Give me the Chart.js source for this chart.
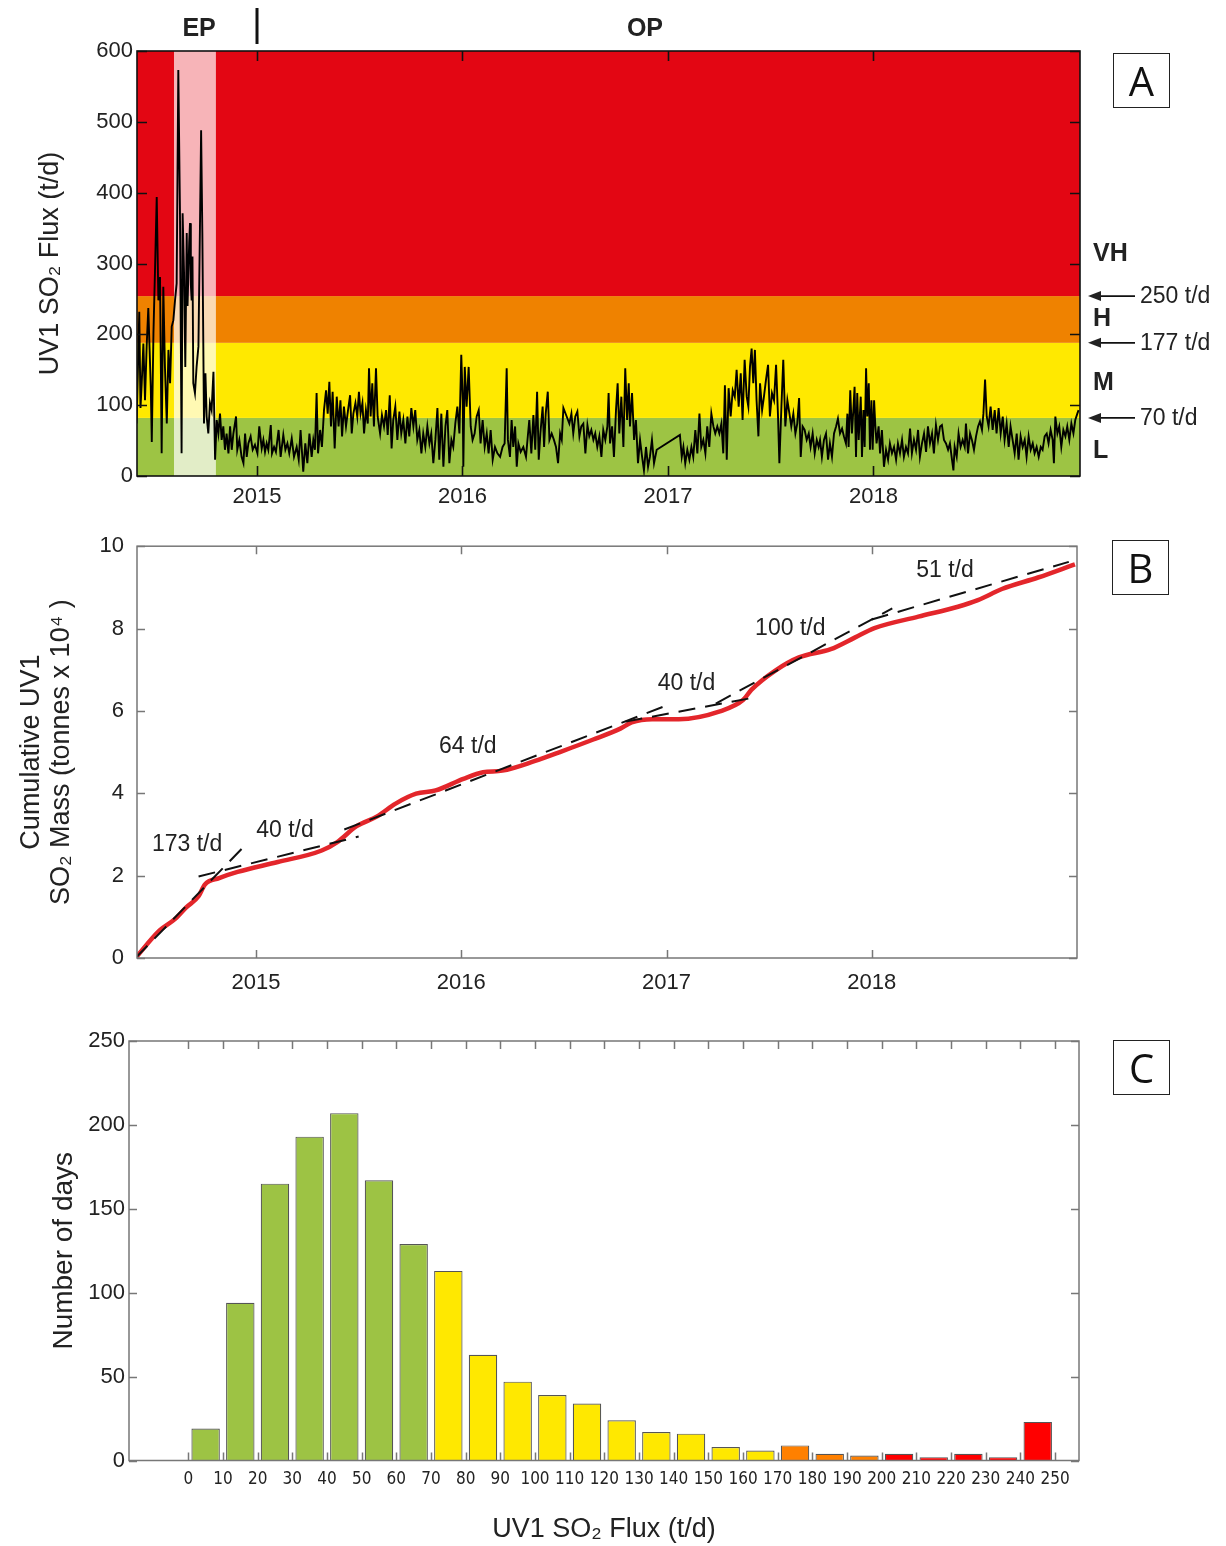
<!DOCTYPE html>
<html>
<head>
<meta charset="utf-8">
<script src="https://cdn.jsdelivr.net/npm/chart.js@4.4.1/dist/chart.umd.min.js"></script>
<style>
  body { margin: 0; background: #fff; }
  #page { position: relative; width: 1226px; height: 1546px; }
  canvas { position: absolute; left: 0; }
  .tag { position: absolute; width: 55px; height: 53px; border: 1.5px solid #222;
         font: 40px "Open Sans", sans-serif; text-align: center; line-height: 53px; color: #111; }
</style>
</head>
<body>
<div id="page">
  <canvas id="chartA" width="1226" height="520" style="top:0"></canvas>
  <canvas id="chartB" width="1226" height="490" style="top:520px"></canvas>
  <canvas id="chartC" width="1226" height="536" style="top:1010px"></canvas>
  <div class="tag" style="left:1113px;top:53px">A</div>
  <div class="tag" style="left:1112px;top:540px">B</div>
  <div class="tag" style="left:1113px;top:1040px">C</div>
</div>
<script>
// ---- panel A : UV1 SO2 flux (t/d), [decimal year, value]
var fluxSeries = [
  [2014.414,74],[2014.420,145],[2014.427,232],[2014.433,96],[2014.439,131],[2014.447,187],[2014.455,107],[2014.463,183],[2014.471,237],
  [2014.483,126],[2014.488,48],[2014.496,201],[2014.504,295],[2014.512,394],[2014.520,248],[2014.528,281],
  [2014.536,32],[2014.544,267],[2014.552,154],[2014.561,74],[2014.569,178],[2014.577,131],[2014.585,211],
  [2014.593,220],[2014.601,248],[2014.609,272],[2014.617,573],[2014.625,376],[2014.633,32],[2014.638,371],
  [2014.645,286],[2014.651,154],[2014.658,343],[2014.662,240],[2014.666,286],[2014.670,330],[2014.674,357],[2014.678,270],[2014.682,248],[2014.686,310],[2014.690,131],
  [2014.698,117],[2014.706,154],[2014.715,183],[2014.723,366],[2014.728,488],[2014.734,343],[2014.742,74],
  [2014.749,145],[2014.755,84],[2014.763,60],[2014.771,103],[2014.779,93],[2014.788,147],[2014.796,23],
  [2014.804,79],[2014.812,60],[2014.820,88],[2014.828,51],[2014.836,70],[2014.844,37],[2014.852,60],
  [2014.861,32],[2014.869,70],[2014.877,37],[2014.885,60],[2014.898,84],[2014.904,37],[2014.914,51],
  [2014.925,27],[2014.934,18],[2014.942,60],[2014.950,27],[2014.958,46],[2014.969,56],[2014.979,37],
  [2014.990,44],[2015.002,32],[2015.011,70],[2015.023,39],[2015.031,51],[2015.039,34],[2015.047,46],
  [2015.055,37],[2015.067,72],[2015.073,32],[2015.083,41],[2015.092,34],[2015.105,65],[2015.115,27],
  [2015.128,58],[2015.138,37],[2015.148,46],[2015.157,32],[2015.169,53],[2015.180,27],[2015.193,41],
  [2015.203,23],[2015.212,65],[2015.225,6],[2015.235,46],[2015.245,18],[2015.255,60],[2015.266,27],
  [2015.274,51],[2015.282,37],[2015.290,117],[2015.297,32],[2015.307,65],[2015.316,41],[2015.326,93],
  [2015.336,121],[2015.344,88],[2015.352,133],[2015.360,70],[2015.368,119],[2015.378,39],[2015.388,112],
  [2015.397,70],[2015.406,107],[2015.414,56],[2015.423,98],[2015.433,70],[2015.443,93],[2015.453,114],
  [2015.461,60],[2015.469,88],[2015.479,103],[2015.488,84],[2015.496,119],[2015.504,88],[2015.513,103],
  [2015.521,60],[2015.530,93],[2015.539,74],[2015.545,152],[2015.553,84],[2015.561,131],[2015.569,70],
  [2015.579,152],[2015.587,84],[2015.599,60],[2015.608,86],[2015.618,70],[2015.628,93],[2015.636,58],
  [2015.646,114],[2015.655,39],[2015.663,79],[2015.673,98],[2015.683,51],[2015.693,91],[2015.702,60],
  [2015.712,79],[2015.722,46],[2015.732,84],[2015.741,56],[2015.751,96],[2015.761,70],[2015.770,93],
  [2015.780,51],[2015.790,65],[2015.800,32],[2015.809,60],[2015.819,41],[2015.829,70],[2015.839,46],
  [2015.848,60],[2015.858,18],[2015.868,51],[2015.878,96],[2015.887,23],[2015.897,88],[2015.907,13],
  [2015.917,70],[2015.926,93],[2015.936,18],[2015.946,51],[2015.955,41],[2015.965,74],[2015.975,98],
  [2015.985,60],[2015.994,171],[2016.001,107],[2016.004,13],[2016.011,154],[2016.020,98],[2016.030,154],
  [2016.040,70],[2016.049,51],[2016.059,60],[2016.069,84],[2016.079,93],[2016.088,46],[2016.098,79],
  [2016.108,41],[2016.118,60],[2016.127,32],[2016.137,65],[2016.147,23],[2016.158,41],[2016.170,32],
  [2016.183,27],[2016.195,41],[2016.205,46],[2016.215,152],[2016.221,51],[2016.231,27],[2016.239,79],
  [2016.247,41],[2016.256,70],[2016.264,13],[2016.272,46],[2016.283,34],[2016.296,41],[2016.309,27],
  [2016.319,60],[2016.325,79],[2016.335,32],[2016.345,86],[2016.354,37],[2016.363,119],[2016.371,23],
  [2016.379,60],[2016.390,98],[2016.397,41],[2016.405,88],[2016.415,119],[2016.423,51],[2016.434,60],
  [2016.445,51],[2016.455,41],[2016.465,18],[2016.475,60],[2016.483,51],[2016.491,96],[2016.507,84],
  [2016.520,74],[2016.530,88],[2016.539,60],[2016.549,84],[2016.559,91],[2016.569,56],[2016.578,70],
  [2016.588,74],[2016.598,32],[2016.608,72],[2016.617,56],[2016.627,65],[2016.637,51],[2016.646,60],
  [2016.656,41],[2016.666,56],[2016.676,27],[2016.685,65],[2016.695,51],[2016.705,70],[2016.711,117],
  [2016.718,46],[2016.728,70],[2016.737,27],[2016.747,93],[2016.755,131],[2016.763,60],[2016.773,112],
  [2016.783,41],[2016.792,152],[2016.801,79],[2016.809,131],[2016.815,70],[2016.825,117],[2016.835,51],
  [2016.844,79],[2016.854,18],[2016.864,51],[2016.874,27],[2016.883,8],[2016.893,41],[2016.903,13],
  [2016.912,27],[2016.922,51],[2016.932,18],[2016.945,37],[2017.058,58],[2017.067,27],[2017.075,41],
  [2017.084,18],[2017.094,37],[2017.104,23],[2017.114,41],[2017.123,27],[2017.133,65],[2017.143,32],
  [2017.153,88],[2017.162,41],[2017.172,51],[2017.182,32],[2017.191,70],[2017.201,41],[2017.211,88],
  [2017.221,70],[2017.230,60],[2017.240,70],[2017.250,60],[2017.260,74],[2017.269,32],[2017.277,128],
  [2017.286,23],[2017.295,124],[2017.305,84],[2017.315,121],[2017.325,112],[2017.334,150],[2017.344,98],
  [2017.354,145],[2017.363,79],[2017.373,164],[2017.383,112],[2017.391,98],[2017.399,154],[2017.407,180],
  [2017.415,131],[2017.423,178],[2017.431,107],[2017.440,56],[2017.448,131],[2017.458,93],[2017.467,112],
  [2017.477,136],[2017.487,157],[2017.496,84],[2017.506,117],[2017.516,107],[2017.526,157],[2017.535,88],
  [2017.542,18],[2017.552,98],[2017.561,164],[2017.571,70],[2017.581,107],[2017.591,88],[2017.600,70],
  [2017.610,88],[2017.620,60],[2017.629,74],[2017.638,110],[2017.646,27],[2017.655,70],[2017.665,65],
  [2017.675,51],[2017.685,60],[2017.694,41],[2017.704,60],[2017.714,32],[2017.724,51],[2017.733,41],
  [2017.740,51],[2017.749,27],[2017.759,51],[2017.769,60],[2017.779,23],[2017.788,46],[2017.798,27],
  [2017.808,60],[2017.818,70],[2017.827,81],[2017.837,60],[2017.847,67],[2017.856,56],[2017.866,46],
  [2017.873,88],[2017.879,41],[2017.887,121],[2017.895,60],[2017.902,93],[2017.908,126],[2017.915,27],
  [2017.921,117],[2017.928,51],[2017.938,112],[2017.944,27],[2017.951,93],[2017.957,41],[2017.964,152],
  [2017.970,84],[2017.977,131],[2017.983,37],[2017.990,107],[2017.996,37],[2018.003,107],[2018.009,70],
  [2018.015,46],[2018.025,70],[2018.032,32],[2018.041,65],[2018.051,13],[2018.061,37],[2018.071,23],
  [2018.080,46],[2018.090,32],[2018.100,41],[2018.110,23],[2018.119,46],[2018.129,32],[2018.139,51],
  [2018.148,27],[2018.158,41],[2018.168,32],[2018.178,67],[2018.187,32],[2018.197,51],[2018.207,37],
  [2018.217,65],[2018.226,27],[2018.236,46],[2018.246,60],[2018.256,34],[2018.265,70],[2018.275,46],
  [2018.285,60],[2018.294,32],[2018.304,72],[2018.314,51],[2018.324,70],[2018.333,72],[2018.343,51],
  [2018.353,46],[2018.363,37],[2018.372,46],[2018.382,23],[2018.389,8],[2018.395,41],[2018.405,27],
  [2018.414,60],[2018.424,41],[2018.434,51],[2018.444,41],[2018.450,74],[2018.460,32],[2018.470,60],
  [2018.479,51],[2018.489,37],[2018.499,56],[2018.509,70],[2018.518,77],[2018.528,65],[2018.535,88],
  [2018.543,136],[2018.551,84],[2018.560,70],[2018.570,98],[2018.580,65],[2018.590,93],[2018.599,60],
  [2018.609,96],[2018.619,60],[2018.629,84],[2018.638,51],[2018.648,74],[2018.658,41],[2018.667,70],
  [2018.677,51],[2018.687,32],[2018.697,60],[2018.706,23],[2018.716,56],[2018.726,41],[2018.736,51],
  [2018.745,27],[2018.755,56],[2018.765,37],[2018.775,46],[2018.784,32],[2018.794,41],[2018.804,27],
  [2018.814,41],[2018.823,37],[2018.833,56],[2018.843,60],[2018.852,46],[2018.862,65],[2018.872,51],
  [2018.878,18],[2018.885,84],[2018.895,60],[2018.904,70],[2018.914,41],[2018.924,65],[2018.934,56],
  [2018.943,70],[2018.953,51],[2018.963,74],[2018.973,60],[2018.982,79],[2018.992,88],[2018.998,93]
];
var bandLimits = [82, 188, 254];           // band edges as drawn (L|M, M|H, H|VH)
var bandNames = ["L", "M", "H", "VH"];
var thresholdLabels = ["70 t/d", "177 t/d", "250 t/d"];
var epPeriod = [2014.596, 2014.800];
var phaseBoundary = 2015.0;
var yearTicks = [2015, 2016, 2017, 2018];

// ---- panel B : cumulative mass (tonnes x 10^4)
var cumulative = [
  [2014.413,0],[2014.53,0.67],[2014.606,0.95],[2014.66,1.23],[2014.72,1.50],[2014.75,1.78],[2014.82,1.94],
  [2014.91,2.09],[2015.106,2.33],[2015.32,2.61],[2015.394,2.81],[2015.49,3.20],[2015.59,3.44],[2015.68,3.75],
  [2015.78,3.99],[2015.875,4.07],[2016.01,4.35],[2016.106,4.51],[2016.20,4.55],[2016.356,4.78],[2016.49,5.02],
  [2016.64,5.30],[2016.775,5.57],[2016.83,5.72],[2016.93,5.80],[2017.06,5.80],[2017.26,5.99],[2017.374,6.27],
  [2017.413,6.51],[2017.53,6.98],[2017.645,7.30],[2017.80,7.50],[2017.917,7.78],[2018.013,8.01],[2018.227,8.29],
  [2018.42,8.53],[2018.517,8.69],[2018.634,8.96],[2018.81,9.24],[2018.99,9.56]
];
var fitSegments = [
  [[2014.413,0.0],[2014.93,2.65]],
  [[2014.72,1.98],[2015.50,2.95]],
  [[2015.43,3.12],[2017.02,6.17]],
  [[2016.80,5.74],[2017.40,6.30]],
  [[2017.24,6.18],[2018.10,8.49]],
  [[2018.00,8.22],[2018.96,9.62]]
];
var fitRates = ["173 t/d", "40 t/d", "64 t/d", "40 t/d", "100 t/d", "51 t/d"];

// ---- panel C : histogram of daily flux
var fluxBins = [0,10,20,30,40,50,60,70,80,90,100,110,120,130,140,150,160,170,180,190,200,210,220,230,240,250];
var dayCounts = [19,94,165,193,207,167,129,113,63,47,39,34,24,17,16,8,6,9,4,3,4,2,4,2,23];

Chart.defaults.font.family = '"Liberation Sans", Arial, sans-serif';
Chart.defaults.color = "#222";

// MATLAB style box with inward ticks on all four sides
var boxTicks = {
  id: "boxTicks",
  afterDraw: function (chart, args, opts) {
    var a = chart.chartArea, ctx = chart.ctx, sx = chart.scales.x, sy = chart.scales.y;
    ctx.save();
    ctx.strokeStyle = opts.color;
    ctx.lineWidth = opts.width;
    ctx.beginPath();
    sx.ticks.forEach(function (t) {
      var px = Math.round(sx.getPixelForValue(t.value)) + 0.5;
      ctx.moveTo(px, a.bottom); ctx.lineTo(px, a.bottom - opts.len);
      ctx.moveTo(px, a.top); ctx.lineTo(px, a.top + opts.len);
    });
    sy.ticks.forEach(function (t) {
      var py = Math.round(sy.getPixelForValue(t.value)) + 0.5;
      ctx.moveTo(a.left, py); ctx.lineTo(a.left + opts.len, py);
      ctx.moveTo(a.right, py); ctx.lineTo(a.right - opts.len, py);
    });
    ctx.stroke();
    ctx.strokeRect(a.left, a.top, a.right - a.left, a.bottom - a.top);
    ctx.restore();
  }
};

var bandColors = ["#9dc444", "#ffe900", "#ef8200", "#e30613"];

var hazardBands = {
  id: "hazardBands",
  beforeDatasetsDraw: function (chart) {
    var a = chart.chartArea, ctx = chart.ctx, sx = chart.scales.x, sy = chart.scales.y;
    var edges = [sy.min].concat(bandLimits, [sy.max]);
    ctx.save();
    for (var i = 0; i < bandColors.length; i++) {
      var y0 = sy.getPixelForValue(edges[i]), y1 = sy.getPixelForValue(edges[i + 1]);
      ctx.fillStyle = bandColors[i];
      ctx.fillRect(a.left, y1, a.right - a.left, y0 - y1);
    }
    var x0 = sx.getPixelForValue(epPeriod[0]), x1 = sx.getPixelForValue(epPeriod[1]);
    ctx.fillStyle = "rgba(255,255,255,0.7)";
    ctx.fillRect(x0, a.top, x1 - x0, a.bottom - a.top);
    ctx.restore();
  },
  afterDraw: function (chart) {
    var a = chart.chartArea, ctx = chart.ctx, sx = chart.scales.x, sy = chart.scales.y;
    ctx.save();
    ctx.fillStyle = "#222";
    ctx.strokeStyle = "#111";
    ctx.font = 'bold 25px "Liberation Sans", Arial, sans-serif';
    ctx.textAlign = "center";
    ctx.textBaseline = "middle";
    ctx.fillText("EP", sx.getPixelForValue(2014.718), 29);
    ctx.fillText("OP", sx.getPixelForValue(2016.888), 29);
    var xd = sx.getPixelForValue(phaseBoundary);
    ctx.lineWidth = 3;
    ctx.beginPath(); ctx.moveTo(xd, 8); ctx.lineTo(xd, 44); ctx.stroke();

    // hazard level letters
    var nameAt = [35, 131, 222, 313];
    ctx.textAlign = "left";
    bandNames.forEach(function (n, i) {
      ctx.fillText(n, a.right + 13, sy.getPixelForValue(nameAt[i]));
    });

    // threshold arrows
    ctx.font = '23px "Liberation Sans", Arial, sans-serif';
    ctx.lineWidth = 1.6;
    bandLimits.forEach(function (v, i) {
      var y = sy.getPixelForValue(v);
      var tip = a.right + 8;
      ctx.beginPath(); ctx.moveTo(tip + 8, y); ctx.lineTo(a.right + 55, y); ctx.stroke();
      ctx.beginPath(); ctx.moveTo(tip, y); ctx.lineTo(tip + 13, y - 5); ctx.lineTo(tip + 13, y + 5); ctx.closePath(); ctx.fill();
      ctx.fillText(thresholdLabels[i], a.right + 60, y + 1);
    });
    ctx.restore();
  }
};

var rateLabels = {
  id: "rateLabels",
  afterDatasetsDraw: function (chart) {
    var ctx = chart.ctx, sx = chart.scales.x, sy = chart.scales.y;
    var at = [[2014.664,2.76],[2015.141,3.10],[2016.032,5.14],[2017.097,6.67],[2017.603,8.0],[2018.357,9.40]];
    ctx.save();
    ctx.fillStyle = "#222";
    ctx.font = '23px "Liberation Sans", Arial, sans-serif';
    ctx.textAlign = "center";
    ctx.textBaseline = "middle";
    fitRates.forEach(function (t, i) {
      ctx.fillText(t, sx.getPixelForValue(at[i][0]), sy.getPixelForValue(at[i][1]));
    });
    ctx.restore();
  }
};

function yearAxis(min, max, height, pad) {
  return {
    type: "linear", min: min, max: max,
    grid: { display: false, drawTicks: false }, border: { display: false },
    afterBuildTicks: function (s) { s.ticks = yearTicks.map(function (v) { return { value: v }; }); },
    afterFit: function (s) { s.height = height; },
    ticks: { font: { size: 22 }, padding: pad, maxRotation: 0, autoSkip: false,
             callback: function (v) { return String(v); } }
  };
}

function toXY(pairs) {
  return pairs.map(function (p) { return { x: p[0], y: p[1] }; });
}

// ---------- A
new Chart(document.getElementById("chartA"), {
  type: "line",
  data: {
    datasets: [{
      data: toXY(fluxSeries),
      borderColor: "#000", borderWidth: 1.9, pointRadius: 0, tension: 0
    }]
  },
  options: {
    animation: false, responsive: false, devicePixelRatio: 1,
    layout: { padding: { left: 0, top: 51, right: 146, bottom: 0 } },
    plugins: { legend: { display: false }, tooltip: { enabled: false },
               boxTicks: { color: "#111", width: 1.6, len: 10 } },
    scales: {
      x: yearAxis(2014.416, 2019.005, 44, 8),
      y: {
        min: 0, max: 600,
        grid: { display: false, drawTicks: false }, border: { display: false },
        afterFit: function (s) { s.width = 137; },
        ticks: { stepSize: 100, font: { size: 22 }, padding: 4 },
        title: { display: true, text: "UV1 SO\u2082 Flux (t/d)", font: { size: 27 }, padding: { top: 34, bottom: 0 } }
      }
    }
  },
  plugins: [hazardBands, boxTicks]
});

// ---------- B
var fitSets = fitSegments.map(function (seg) {
  return { data: toXY(seg), borderColor: "#111", borderWidth: 2, borderDash: [17, 10],
           pointRadius: 0, order: 0 };
});
new Chart(document.getElementById("chartB"), {
  type: "line",
  data: {
    datasets: [{
      data: toXY(cumulative), borderColor: "#e3262b", borderWidth: 4.5,
      pointRadius: 0, tension: 0.3, cubicInterpolationMode: "monotone", order: 1
    }].concat(fitSets)
  },
  options: {
    animation: false, responsive: false, devicePixelRatio: 1,
    layout: { padding: { left: 0, top: 18, right: 149, bottom: 0 } },
    plugins: { legend: { display: false }, tooltip: { enabled: false },
               boxTicks: { color: "#777", width: 1.5, len: 8 } },
    scales: {
      x: yearAxis(2014.42, 2019.0, 52, 12),
      y: {
        min: 0, max: 10,
        grid: { display: false, drawTicks: false }, border: { display: false },
        afterFit: function (s) { s.width = 137; },
        ticks: { stepSize: 2, font: { size: 22 }, padding: 13 },
        title: { display: true, text: ["Cumulative UV1", "SO\u2082 Mass (tonnes x 10\u2074 )"],
                 font: { size: 27, lineHeight: 1.11 }, padding: { top: 17, bottom: 0 } }
      }
    }
  },
  plugins: [rateLabels, boxTicks]
});

// ---------- C
var barColors = fluxBins.slice(0, -1).map(function (b) {
  if (b < 70) return "#9dc344";
  if (b < 170) return "#ffe800";
  if (b < 200) return "#ff8000";
  return "#ff0000";
});
new Chart(document.getElementById("chartC"), {
  type: "bar",
  data: {
    datasets: [{
      data: dayCounts.map(function (c, i) { return { x: (fluxBins[i] + fluxBins[i + 1]) / 2, y: c }; }),
      backgroundColor: barColors, borderColor: "#555", borderWidth: 1.2,
      barPercentage: 0.82, categoryPercentage: 1
    }]
  },
  options: {
    animation: false, responsive: false, devicePixelRatio: 1,
    layout: { padding: { left: 0, top: 31, right: 147, bottom: 0 } },
    plugins: { legend: { display: false }, tooltip: { enabled: false },
               boxTicks: { color: "#777", width: 1.5, len: 8 } },
    scales: {
      x: {
        type: "linear", min: -17.1, max: 256.9, offset: false,
        grid: { display: false, drawTicks: false }, border: { display: false },
        afterBuildTicks: function (s) { s.ticks = fluxBins.map(function (v) { return { value: v }; }); },
        afterFit: function (s) { s.height = 85.5; },
        ticks: { font: { size: 17, family: '"Liberation Sans Narrow", "DejaVu Sans Condensed", sans-serif' },
                 padding: 9, maxRotation: 0, autoSkip: false, callback: function (v) { return String(v); } },
        title: { display: true, text: "UV1 SO\u2082 Flux (t/d)", font: { size: 27 }, padding: { top: 0, bottom: 0 } }
      },
      y: {
        min: 0, max: 250,
        grid: { display: false, drawTicks: false }, border: { display: false },
        afterFit: function (s) { s.width = 129; },
        ticks: { stepSize: 50, font: { size: 22 }, padding: 4 },
        title: { display: true, text: "Number of days", font: { size: 28 }, padding: { top: 47, bottom: 0 } }
      }
    }
  },
  plugins: [boxTicks]
});
</script>
</body>
</html>
